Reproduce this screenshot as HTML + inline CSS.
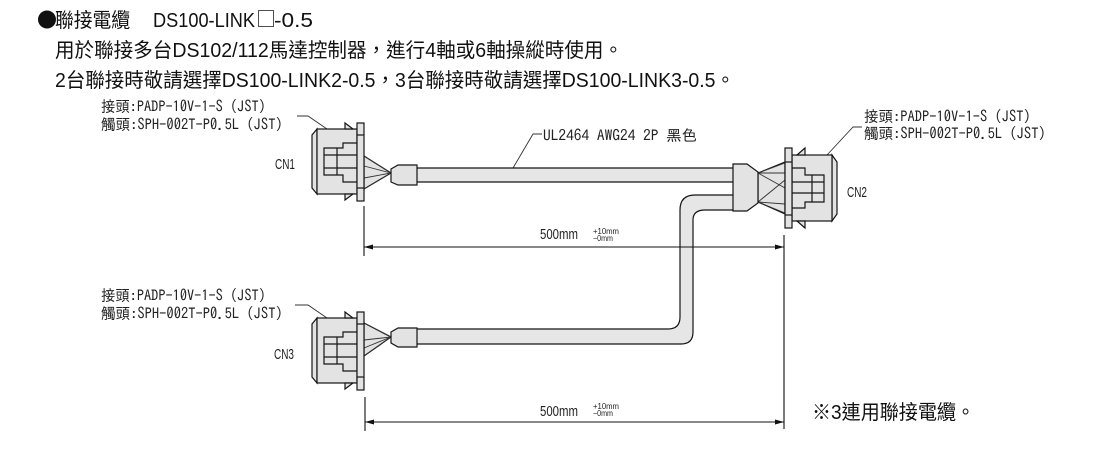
<!DOCTYPE html>
<html><head><meta charset="utf-8"><style>
html,body{margin:0;padding:0;background:#fff;}
svg{display:block;}
.h{font-family:"Liberation Sans","Noto Sans CJK TC",sans-serif;font-size:20px;fill:#111;}
.cj{font-family:"Noto Sans CJK TC",sans-serif;}
.lb{font-family:"IPAGothic","Noto Sans CJK JP",monospace;font-size:15.5px;fill:#222;}
.cn{font-family:"Liberation Sans",sans-serif;font-size:15px;fill:#222;}
.dm{font-family:"Liberation Sans",sans-serif;font-size:14.5px;fill:#222;}
.sm{font-family:"Liberation Sans",sans-serif;font-size:8px;fill:#222;}
.g{fill:#e3e3e3;stroke:#151515;stroke-width:1.2;}
.k{fill:none;stroke:#151515;stroke-width:1.2;}
.t{fill:none;stroke:#333;stroke-width:0.9;}
</style></head><body>
<svg width="1100" height="470" viewBox="0 0 1100 470" xmlns="http://www.w3.org/2000/svg">
<!-- header text -->
<text class="h cj" x="37" y="27" font-size="18">●</text>
<text class="h" x="55" y="27" textLength="75" lengthAdjust="spacingAndGlyphs">聯接電纜</text>
<text class="h" x="153" y="27" textLength="102" lengthAdjust="spacingAndGlyphs">DS100-LINK</text>
<text class="h cj" x="256" y="26" font-size="14" fill="#444">□</text>
<text class="h" x="274" y="27" textLength="39" lengthAdjust="spacingAndGlyphs">-0.5</text>
<text class="h" x="55" y="57" textLength="568" lengthAdjust="spacingAndGlyphs">用於聯接多台DS102/112馬達控制器，進行4軸或6軸操縱時使用。</text>
<text class="h" x="55" y="87" textLength="680" lengthAdjust="spacingAndGlyphs">2台聯接時敬請選擇DS100-LINK2-0.5，3台聯接時敬請選擇DS100-LINK3-0.5。</text>

<!-- labels -->
<text class="lb" x="101" y="112" textLength="172" lengthAdjust="spacingAndGlyphs">接頭:PADP-10V-1-S（JST）</text>
<text class="lb" x="101" y="130" textLength="189" lengthAdjust="spacingAndGlyphs">觸頭:SPH-002T-P0.5L（JST）</text>
<polyline class="t" points="297,116 308,116 327,129"/>

<text class="lb" x="864" y="122" textLength="174" lengthAdjust="spacingAndGlyphs">接頭:PADP-10V-1-S（JST）</text>
<text class="lb" x="864" y="139" textLength="189" lengthAdjust="spacingAndGlyphs">觸頭:SPH-002T-P0.5L（JST）</text>
<polyline class="t" points="827,155 853,127 862,127"/>

<text class="lb" x="101" y="301" textLength="172" lengthAdjust="spacingAndGlyphs">接頭:PADP-10V-1-S（JST）</text>
<text class="lb" x="101" y="319" textLength="189" lengthAdjust="spacingAndGlyphs">觸頭:SPH-002T-P0.5L（JST）</text>
<polyline class="t" points="295,305 308,305 327,318"/>

<text class="lb" x="543" y="141" font-size="15" textLength="154" lengthAdjust="spacingAndGlyphs">UL2464 AWG24 2P 黑色</text>
<polyline class="t" points="513,168 533,134 542,134"/>

<text class="cn" x="275" y="169" textLength="20" lengthAdjust="spacingAndGlyphs">CN1</text>
<text class="cn" x="847" y="197" textLength="20" lengthAdjust="spacingAndGlyphs">CN2</text>
<text class="cn" x="274" y="359" textLength="20" lengthAdjust="spacingAndGlyphs">CN3</text>

<!-- cables -->
<rect x="417" y="168" width="316" height="14" fill="#e6e6e6"/>
<line class="k" x1="417" y1="168" x2="733" y2="168"/>
<line class="k" x1="417" y1="182" x2="733" y2="182"/>
<path d="M733,195 H695 Q680,195 680,210 V317 Q680,329 668,329 H417 V344 H681 Q693,344 693,332 V220 Q693,210 705,210 H733 Z" fill="#e6e6e6" stroke="none"/>
<path class="k" d="M733,195 H695 Q680,195 680,210 V317 Q680,329 668,329 H417"/>
<path class="k" d="M417,344 H681 Q693,344 693,332 V220 Q693,210 705,210 H733"/>

<!-- CN1 -->
<g>
<polygon class="g" points="364,156 391,173 364,189"/>
<g class="t"><line x1="364" y1="156" x2="391" y2="173"/><line x1="364" y1="166" x2="391" y2="173"/><line x1="364" y1="178" x2="391" y2="173"/><line x1="364" y1="189" x2="391" y2="173"/></g>
<polygon class="g" points="391,169 398,165 417,165 417,185 398,185 391,182"/>
<polygon class="g" points="317,129 312,135 312,188 317,194"/>
<rect class="g" x="317" y="129" width="40" height="65"/>
<polygon class="g" points="345,123 345,129 353,129"/>
<polygon class="g" points="345,200 345,194 353,194"/>
<rect class="g" x="357" y="123" width="7" height="78"/>
<line class="k" x1="357" y1="135" x2="364" y2="135"/>
<line class="k" x1="357" y1="188" x2="364" y2="188"/>
<path class="k" d="M357,143 H343 V148 H324 V175 H343 V182 H357 M337,148 V175 M324,155 H357 M324,168 H357"/>
</g>

<!-- CN3 -->
<g>
<polygon class="g" points="364,323 391,337 364,356"/>
<g class="t"><line x1="364" y1="323" x2="391" y2="337"/><line x1="364" y1="340" x2="391" y2="337"/><line x1="364" y1="348" x2="391" y2="337"/><line x1="364" y1="356" x2="391" y2="337"/></g>
<polygon class="g" points="391,332 398,328 417,328 417,347 398,347 391,343"/>
<g transform="translate(0,189)">
<polygon class="g" points="317,129 312,135 312,188 317,194"/>
<rect class="g" x="317" y="129" width="40" height="65"/>
<polygon class="g" points="345,123 345,129 353,129"/>
<polygon class="g" points="345,200 345,194 353,194"/>
<rect class="g" x="357" y="123" width="7" height="78"/>
<line class="k" x1="357" y1="135" x2="364" y2="135"/>
<line class="k" x1="357" y1="188" x2="364" y2="188"/>
<path class="k" d="M357,143 H343 V148 H324 V175 H343 V182 H357 M337,148 V175 M324,155 H357 M324,168 H357"/>
</g>
</g>

<!-- CN2 -->
<g>
<polygon class="g" points="758,173 785,162 785,214 758,202"/>
<g class="t"><line x1="758" y1="173" x2="785" y2="163"/><line x1="758" y1="173" x2="785" y2="173"/><line x1="758" y1="173" x2="785" y2="188"/><line x1="758" y1="202" x2="785" y2="180"/><line x1="758" y1="202" x2="785" y2="204"/><line x1="758" y1="202" x2="785" y2="213"/></g>
<polygon class="g" points="733,164 747,164 758,172 758,203 747,211 733,211"/>
<polygon class="g" points="832,155 837,162 837,214 832,221"/>
<rect class="g" x="792" y="155" width="40" height="66"/>
<polygon class="g" points="797,155 805,148 805,155"/>
<polygon class="g" points="797,221 805,228 805,221"/>
<rect class="g" x="785" y="148" width="7" height="80"/>
<line class="k" x1="785" y1="162" x2="792" y2="162"/>
<line class="k" x1="785" y1="215" x2="792" y2="215"/>
<path class="k" d="M792,168 H805 V175 H824 V202 H805 V208 H792 M812,175 V202 M792,182 H824 M792,193 H824"/>
</g>

<!-- dimensions -->
<g stroke="#111" stroke-width="1.1">
<line x1="364" y1="206" x2="364" y2="256"/>
<line x1="784" y1="235" x2="784" y2="429"/>
<line x1="364" y1="247" x2="784" y2="247"/>
<line x1="365" y1="397" x2="365" y2="431"/>
<line x1="365" y1="422" x2="784" y2="422"/>
</g>
<g fill="#111">
<polygon points="784,247 775,244.5 775,249.5"/>
<polygon points="364,247 373,244.5 373,249.5"/>
<polygon points="784,422 775,419.5 775,424.5"/>
<polygon points="365,422 374,419.5 374,424.5"/>
</g>
<text class="dm" x="540" y="239" textLength="38" lengthAdjust="spacingAndGlyphs">500mm</text>
<text class="sm" x="593" y="234" textLength="26" lengthAdjust="spacingAndGlyphs">+10mm</text>
<text class="sm" x="593" y="241" textLength="20" lengthAdjust="spacingAndGlyphs">−0mm</text>
<text class="dm" x="540" y="416" textLength="38" lengthAdjust="spacingAndGlyphs">500mm</text>
<text class="sm" x="593" y="409" textLength="26" lengthAdjust="spacingAndGlyphs">+10mm</text>
<text class="sm" x="593" y="416" textLength="20" lengthAdjust="spacingAndGlyphs">−0mm</text>

<text class="h" x="812" y="419" textLength="163" lengthAdjust="spacingAndGlyphs">※3連用聯接電纜。</text>
</svg>
</body></html>
